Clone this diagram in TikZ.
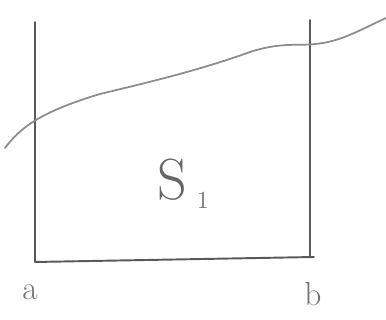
\documentclass[tikz,border=0pt]{standalone}
\usetikzlibrary{positioning}
\begin{document}
\begin{tikzpicture}[
    x=0.02cm, y=-0.02cm,
    % Estilos de trazos
    pencil line/.style={line width=1.1pt, black!65, line cap=round},
    curve line/.style={line width=1pt, black!45, line cap=round},
    % Estilos de etiquetas
    end label/.style={font=\fontsize{19}{20}\selectfont, text=black!55},
    area label/.style={font=\fontsize{33}{34}\selectfont, text=black!60}
]
\useasboundingbox (0,0) rectangle (386,320);

% Esquinas del recuadro
\coordinate (tl) at (35,22);
\coordinate (bl) at (35,262);
\coordinate (tr) at (310,20);
\coordinate (br) at (310,257);
\coordinate (brx) at (314,257);

% Recuadro
\draw[pencil line] (tl) -- (bl);
\draw[pencil line] (tr) -- (br);
\draw[pencil line] (bl) -- (brx);

% Curva
\draw[curve line] (5,148) .. controls (20,128) and (40,112) .. (100,94)
    .. controls (150,82) and (200,70) .. (250,52)
    .. controls (280,42) and (300,46) .. (315,44)
    .. controls (340,42) and (360,30) .. (386,18);

% Etiquetas
\node[end label] (a) at (30,292) {a};
\node[end label] (b) at (313,294) {b};
\node[area label] (S) at (172,180) {S};
\node[end label, font=\fontsize{14}{15}\selectfont] (one) at (203,200) {1};
\end{tikzpicture}
\end{document}
